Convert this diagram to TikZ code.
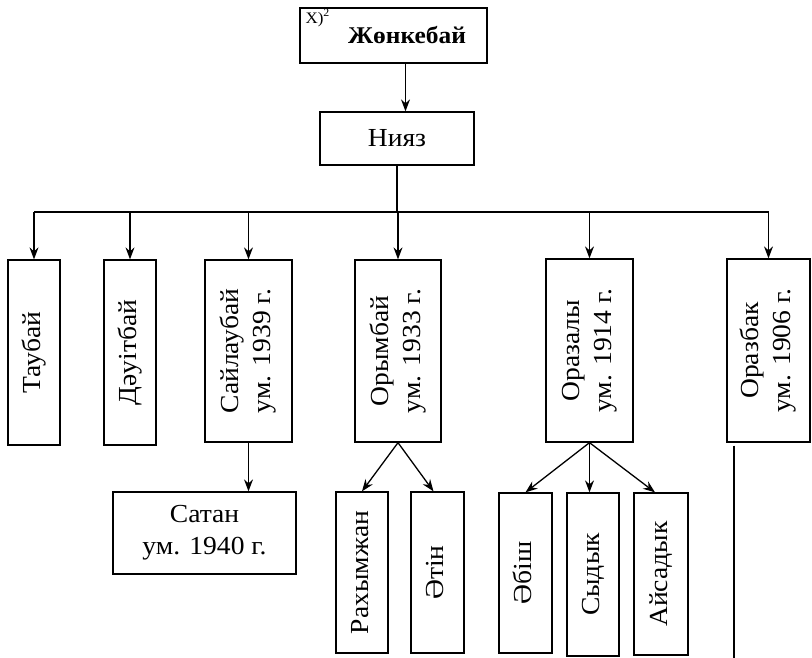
\documentclass[tikz,border=0pt]{standalone}
\usepackage{fontspec}
\setmainfont{Liberation Serif}[FakeStretch=1.06]
\usetikzlibrary{arrows.meta,positioning}

\newcommand{\vname}[1]{\rotatebox{90}{\begin{tabular}{@{}c@{}}#1\end{tabular}}}

\begin{document}
\begin{tikzpicture}[x=1pt, y=-1pt,
        box/.style={draw, line width=1.3pt, inner sep=0pt, font=\fontsize{26}{32}\selectfont},
        arr/.style={-{Stealth[length=12pt, width=9pt, inset=4pt]}, line width=1.3pt},
        link/.style={line width=1.3pt}]
        \useasboundingbox (0,0) rectangle (812,658);

        \node[box, minimum width=187pt, minimum height=55pt, font=\fontsize{24}{28}\selectfont\bfseries] (zhonkebay) at (393.5,35.5) {\hspace*{27pt}Жөнкебай};
        \node[anchor=north west, inner sep=1pt, font=\fontsize{16}{16}\selectfont] (zhonmark) at ([xshift=5pt, yshift=-1pt]zhonkebay.north west) {X)\textsuperscript{2}};
        \node[box, minimum width=154pt, minimum height=53pt] (niyaz) at (397,138.5) {Нияз};

        \node[box, minimum width=52pt, minimum height=185pt] (taubay) at (34,352.5) {\vname{Таубай}};
        \node[box, minimum width=52pt, minimum height=185pt] (dauitbay) at (130,352.5) {\vname{Дәуітбай}};
        \node[box, minimum width=87pt, minimum height=182pt] (saylaubay) at (248.5,351) {\vname{Сайлаубай\\ум. 1939 г.}};
        \node[box, minimum width=86pt, minimum height=182pt] (orymbay) at (398,351) {\vname{Орымбай\\ум. 1933 г.}};
        \node[box, minimum width=87pt, minimum height=183pt] (orazaly) at (589.5,350.5) {\vname{Оразалы\\ум. 1914 г.}};
        \node[box, minimum width=83pt, minimum height=183pt] (orazbak) at (768.5,350.5) {\vname{Оразбак\\ум. 1906 г.}};

        \node[box, minimum width=183pt, minimum height=82pt, align=center] (satan) at (204.5,533) {Сатан\\ум. 1940 г.};
        \node[box, minimum width=52pt, minimum height=161pt] (rakhymzhan) at (362,572.5) {\vname{Рахымжан}};
        \node[box, minimum width=53pt, minimum height=161pt] (atin) at (437.5,572.5) {\vname{Әтін}};
        \node[box, minimum width=53pt, minimum height=160pt] (abish) at (525.5,573) {\vname{Әбіш}};
        \node[box, minimum width=52pt, minimum height=163pt] (sydyk) at (593,574.5) {\vname{Сыдык}};
        \node[box, minimum width=54pt, minimum height=162pt] (aysadyk) at (661,574) {\vname{Айсадык}};

        \coordinate (bar) at (0,212);
        \coordinate (orazbak end) at (734,658);

        \draw[arr] ([xshift=12pt]zhonkebay.south) -- ([xshift=12pt]zhonkebay.south |- niyaz.north);
        \draw[link] (niyaz.south) -- (niyaz.south |- bar);
        \draw[link] (taubay.north |- bar) -- (orazbak.north |- bar);
        \foreach \child in {taubay, dauitbay, saylaubay, orymbay, orazaly, orazbak}
            \draw[arr] (\child.north |- bar) -- (\child.north);

        \draw[arr] (saylaubay.south) -- (saylaubay.south |- satan.north);
        \draw[arr] (orymbay.south) -- (rakhymzhan.north);
        \draw[arr] (orymbay.south) -- ([xshift=-4pt]atin.north);
        \draw[arr] (orazaly.south) -- (abish.north);
        \draw[arr] (orazaly.south) -- (orazaly.south |- sydyk.north);
        \draw[arr] (orazaly.south) -- ([xshift=-6pt]aysadyk.north);
        \draw[link] ([yshift=-3pt]orazbak.south west -| orazbak end) -- (orazbak end);
\end{tikzpicture}
\end{document}
